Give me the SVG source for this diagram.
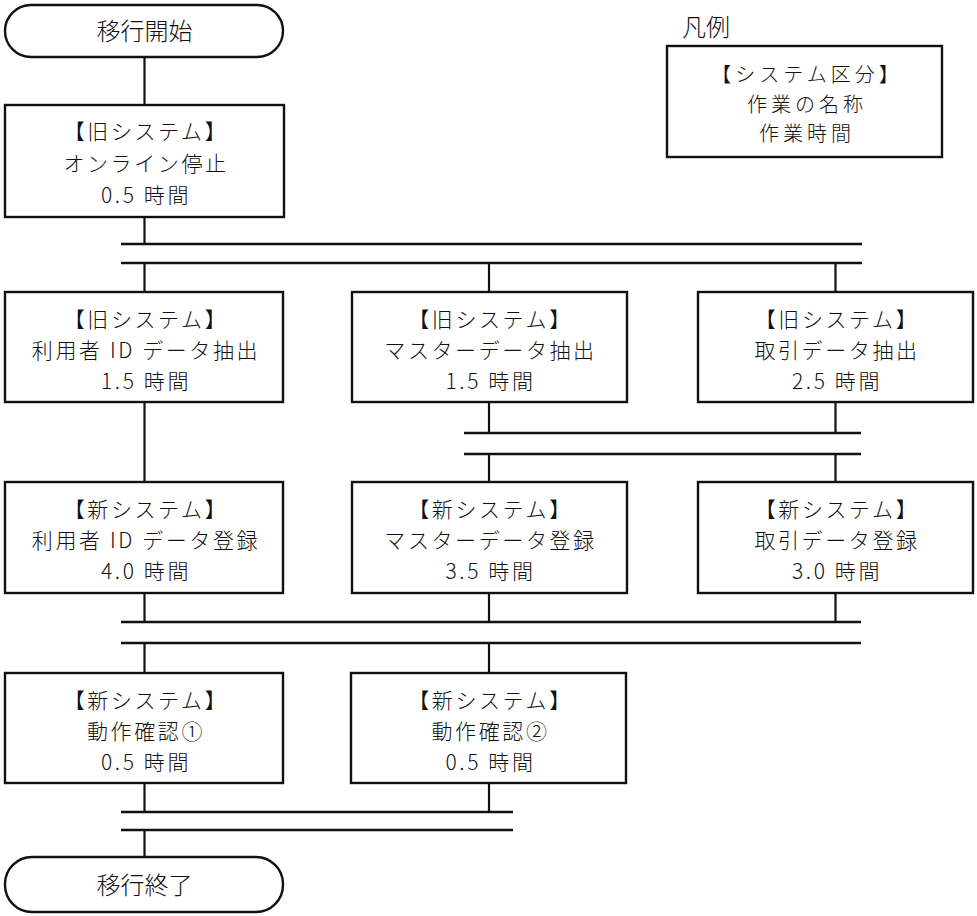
<svg xmlns="http://www.w3.org/2000/svg" width="977" height="916" viewBox="0 0 977 916">
<style>
.box{fill:#fff;stroke:#111;stroke-width:2.4}
.ln{stroke:#111;stroke-width:2.2;fill:none}
.bar{stroke:#111;stroke-width:2.6;fill:none}
text{font-family:"Noto Sans CJK JP","Noto Sans CJK SC",sans-serif;font-size:21px;letter-spacing:2.6px;font-weight:300;fill:#111;text-anchor:middle}
.big{font-size:24px;letter-spacing:0}
.lg{font-size:20px;letter-spacing:4px}
</style>
<rect width="977" height="916" fill="#fff"/>
<g id="connectors">
<path class="ln" d="M144.5 57V105M144.5 217V244M144.5 263V292M489 263V292M835.5 263V292M144.5 402V482M489 402V433M835.5 402V433M489 454V482M835.5 454V482M144.5 593V622M489 593V622M835.5 593V622M144.5 643V673M489 643V673M144.5 783V812M489 783V812M144.5 830V857"/>
<path class="bar" d="M121 244H862M121 263H862M464 433H861M464 454H861M121 622H861M121 643H861M121 812H513M121 830H513"/>
</g>
<g id="start">
<rect class="box" x="5" y="5" width="278" height="52" rx="26" ry="26"/>
<text class="big" x="144.5" y="40">移行開始</text>
</g>
<g id="legend">
<text class="big" x="682" y="36" style="text-anchor:start">凡例</text>
<rect class="box" x="667" y="46" width="275" height="111"/>
<text class="lg" x="807" y="82">【システム区分】</text>
<text class="lg" x="807" y="111.5">作業の名称</text>
<text class="lg" x="807" y="141">作業時間</text>
</g>
<g id="n1">
<rect class="box" x="5" y="105" width="279" height="112"/>
<text x="146" y="139">【旧システム】</text>
<text x="146" y="171">オンライン停止</text>
<text x="146" y="203">0.5 時間</text>
</g>
<g id="n2a">
<rect class="box" x="5" y="292" width="278" height="110"/>
<text x="146" y="327">【旧システム】</text>
<text x="146" y="358">利用者 ID データ抽出</text>
<text x="146" y="389">1.5 時間</text>
</g>
<g id="n2b">
<rect class="box" x="352" y="292" width="275" height="110"/>
<text x="490.5" y="327">【旧システム】</text>
<text x="490.5" y="358">マスターデータ抽出</text>
<text x="490.5" y="389">1.5 時間</text>
</g>
<g id="n2c">
<rect class="box" x="698" y="292" width="275" height="110"/>
<text x="837" y="327">【旧システム】</text>
<text x="837" y="358">取引データ抽出</text>
<text x="837" y="389">2.5 時間</text>
</g>
<g id="n3a">
<rect class="box" x="5" y="482" width="278" height="111"/>
<text x="146" y="517">【新システム】</text>
<text x="146" y="548">利用者 ID データ登録</text>
<text x="146" y="579">4.0 時間</text>
</g>
<g id="n3b">
<rect class="box" x="352" y="482" width="275" height="111"/>
<text x="490.5" y="517">【新システム】</text>
<text x="490.5" y="548">マスターデータ登録</text>
<text x="490.5" y="579">3.5 時間</text>
</g>
<g id="n3c">
<rect class="box" x="698" y="482" width="275" height="111"/>
<text x="837" y="517">【新システム】</text>
<text x="837" y="548">取引データ登録</text>
<text x="837" y="579">3.0 時間</text>
</g>
<g id="n4a">
<rect class="box" x="5" y="673" width="278" height="110"/>
<text x="146" y="708">【新システム】</text>
<text x="146" y="739">動作確認①</text>
<text x="146" y="770">0.5 時間</text>
</g>
<g id="n4b">
<rect class="box" x="351" y="673" width="275" height="110"/>
<text x="490.5" y="708">【新システム】</text>
<text x="490.5" y="739">動作確認②</text>
<text x="490.5" y="770">0.5 時間</text>
</g>
<g id="end">
<rect class="box" x="5" y="857" width="278" height="55" rx="27" ry="27"/>
<text class="big" x="144.5" y="894">移行終了</text>
</g>
</svg>
